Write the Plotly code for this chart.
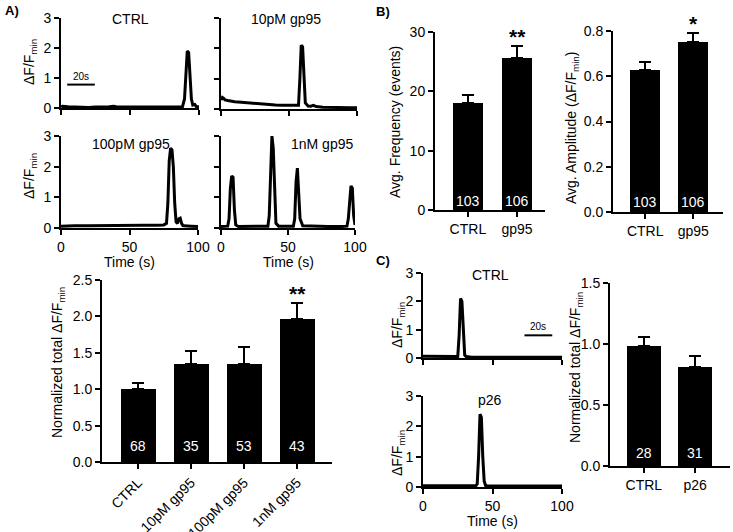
import plotly.graph_objects as go

W, H = 733, 532
FONT = "Liberation Sans, Arial, sans-serif"

# ---------------- data ----------------
# Panel A traces (time s, dF/Fmin)
a_ctrl_t = [0, 1, 5, 10, 15, 20, 25, 30, 35, 38, 40, 45, 50, 55, 60, 65, 70, 75, 80, 85, 88, 89.5, 90.5, 91.5, 92.5, 93.5, 94.5, 95.5, 97, 98, 100]
a_ctrl_y = [0.04, 0.06, 0.04, 0.03, 0.03, 0.02, 0.03, 0.03, 0.04, 0.06, 0.04, 0.03, 0.03, 0.03, 0.04, 0.03, 0.05, 0.03, 0.03, 0.03, 0.04, 0.3, 1.3, 1.9, 1.85, 1.0, 0.3, 0.1, 0.12, 0.05, 0.04]

a_10p_t = [0, 1, 2, 3, 5, 8, 10, 15, 20, 25, 30, 35, 40, 45, 50, 55, 57, 58, 59, 60, 61, 62, 64, 66, 68, 70, 75, 80, 85, 90, 95, 100]
a_10p_y = [0.3, 0.38, 0.35, 0.3, 0.28, 0.25, 0.24, 0.22, 0.2, 0.17, 0.15, 0.14, 0.13, 0.12, 0.12, 0.11, 0.12, 1.0, 2.1, 2.05, 1.0, 0.2, 0.1, 0.09, 0.12, 0.08, 0.06, 0.05, 0.05, 0.04, 0.04, 0.04]

a_100p_t = [0, 5, 10, 20, 30, 40, 50, 60, 70, 75, 77, 78, 79, 80, 81, 82, 83, 84, 85, 86, 87, 88, 89, 90, 95, 100]
a_100p_y = [0.06, 0.07, 0.07, 0.07, 0.08, 0.08, 0.08, 0.09, 0.09, 0.1, 0.15, 0.8, 2.2, 2.6, 2.55, 2.0, 0.8, 0.2, 0.15, 0.3, 0.32, 0.15, 0.08, 0.07, 0.06, 0.05]

a_1n_t = [0, 3, 5, 6, 7, 8, 9, 10, 11, 13, 20, 30, 35, 36, 37, 38, 39, 40, 41, 43, 50, 54, 55, 56, 57, 58, 59, 61, 70, 80, 90, 94, 95, 96, 97, 98, 99, 100]
a_1n_y = [0.05, 0.05, 0.06, 0.3, 1.3, 1.7, 1.65, 0.6, 0.1, 0.05, 0.05, 0.05, 0.06, 0.4, 2.0, 3.0, 2.6, 0.9, 0.15, 0.06, 0.05, 0.06, 0.3, 1.5, 1.95, 1.2, 0.3, 0.07, 0.05, 0.05, 0.05, 0.06, 0.3, 1.0, 1.37, 1.3, 0.4, 0.1]

# Panel A bars
a_cats = ["CTRL", "10pM gp95", "100pM gp95", "1nM gp95"]
a_vals = [1.0, 1.34, 1.35, 1.97]
a_err = [0.09, 0.18, 0.23, 0.22]
a_n = ["68", "35", "53", "43"]
a_sig = ["", "", "", "**"]

# Panel B bars
b_cats = ["CTRL", "gp95"]
b_freq = [18.0, 25.6]
b_freq_err = [1.4, 2.0]
b_amp = [0.628, 0.752]
b_amp_err = [0.037, 0.038]
b_n = ["103", "106"]
b_freq_sig = ["", "**"]
b_amp_sig = ["", "*"]

# Panel C traces
c_ctrl_t = [0, 5, 8, 10, 15, 20, 24, 25, 26, 27, 28, 29, 30, 31, 32, 35, 40, 50, 60, 70, 80, 90, 100]
c_ctrl_y = [0.06, 0.06, 0.06, 0.05, 0.04, 0.04, 0.04, 0.05, 0.8, 2.1, 2.0, 0.8, 0.1, 0.05, 0.04, 0.03, 0.03, 0.03, 0.03, 0.03, 0.03, 0.03, 0.03]
c_p26_t = [0, 10, 20, 30, 38, 39, 40, 41, 42, 43, 44, 45, 46, 50, 60, 70, 80, 90, 100]
c_p26_y = [0.04, 0.04, 0.04, 0.04, 0.04, 0.1, 1.0, 2.4, 2.3, 1.0, 0.2, 0.05, 0.04, 0.03, 0.03, 0.03, 0.03, 0.03, 0.03]

# Panel C bars
c_cats = ["CTRL", "p26"]
c_vals = [0.98, 0.81]
c_err = [0.08, 0.09]
c_n = ["28", "31"]

# scale bars: (panel axis, start time, length s, level)
scalebars = [("1", 4.5, 20, 0.78), ("8", 73, 20, 0.8)]

FS = 14

# ---------------- helpers ----------------
def dxp(a, b):
    return [a / W, b / W]

def dyp(top, bottom):
    return [1 - bottom / H, 1 - top / H]

def px_x(x):
    return x / W

def px_y(y):
    return 1 - y / H

def paper_text(text, xp, yp, size=FS, angle=0, color="black"):
    return dict(text=text, x=px_x(xp), y=px_y(yp), xref="paper", yref="paper",
                xanchor="center", yanchor="middle", showarrow=False, textangle=angle,
                font=dict(size=size, family=FONT, color=color))

axis_style = dict(showline=True, linewidth=2, linecolor="black", ticks="outside",
                  ticklen=5, tickwidth=2, tickcolor="black", showgrid=False,
                  zeroline=False, automargin=False,
                  tickfont=dict(size=FS, color="black", family=FONT))

fig = go.Figure()
layout = {}
annotations = []
shapes = []

# panel domains (px): (x0, x1, ytop, ybottom)
trace_panels = {
    "1": (61, 199, 18, 108, a_ctrl_t, a_ctrl_y, True, False, "CTRL", 130, 19),
    "2": (221, 357, 18, 109, a_10p_t, a_10p_y, False, False, "10pM gp95", 286, 19),
    "3": (61, 198, 136, 228, a_100p_t, a_100p_y, True, True, "100pM gp95", 131, 144),
    "4": (221, 355, 136, 228, a_1n_t, a_1n_y, False, True, "1nM gp95", 322, 144),
    "8": (423, 562, 273, 358, c_ctrl_t, c_ctrl_y, True, False, "CTRL", 490, 275),
    "9": (423, 562, 396, 487, c_p26_t, c_p26_y, True, True, "p26", 490, 400),
}

for k, (x0, x1, yt, yb, t, y, ylab, xlab, title, tx, ty) in trace_panels.items():
    xa = "xaxis" if k == "1" else "xaxis" + k
    ya = "yaxis" if k == "1" else "yaxis" + k
    xr = "x" if k == "1" else "x" + k
    yr = "y" if k == "1" else "y" + k
    fig.add_trace(go.Scatter(x=t, y=y, mode="lines", xaxis=xr, yaxis=yr,
                             line=dict(color="black", width=3), showlegend=False,
                             hoverinfo="skip"))
    layout[xa] = dict(axis_style, domain=dxp(x0, x1), range=[0, 100], anchor=yr,
                      tickvals=[0, 50, 100], showticklabels=xlab)
    layout[ya] = dict(axis_style, domain=dyp(yt, yb), range=[0, 3], anchor=xr,
                      tickvals=[0, 1, 2, 3], showticklabels=ylab)
    annotations.append(paper_text(title, tx, ty))
    if xlab:
        annotations.append(paper_text("Time (s)", (x0 + x1) / 2, yb + 34))

# y titles for trace panels
for (xp, yp) in [(30, 62), (30, 176), (398, 325), (398, 453)]:
    annotations.append(paper_text("ΔF/F<sub>min</sub>", xp, yp, angle=-90))

for (k, t0, L, lev) in scalebars:
    xr = "x" if k == "1" else "x" + k
    yr = "y" if k == "1" else "y" + k
    shapes.append(dict(type="line", xref=xr, yref=yr, x0=t0, x1=t0 + L, y0=lev, y1=lev,
                       line=dict(color="black", width=2)))
    annotations.append(dict(text="20s", xref=xr, yref=yr, x=t0 + L / 2, y=lev, yanchor="bottom",
                            xanchor="center", yshift=1, showarrow=False,
                            font=dict(size=10, family=FONT, color="black")))

# bar panels
bar_panels = [
    ("5", (102, 332, 280, 462), a_cats, a_vals, a_err, a_n, a_sig, [0, 2.5], 0.5, ".1f",
     [-0.68, 3.66], 0.66, -45, 16, "Normalized total ΔF/F<sub>min</sub>", 58, 363),
    ("6", (435, 545, 32, 210), b_cats, b_freq, b_freq_err, b_n, b_freq_sig, [0, 30], 10, "d",
     [-0.67, 1.57], 0.61, 0, 9, "Avg. Frequency (events)", 395, 122),
    ("7", (613, 723, 31, 212), b_cats, b_amp, b_amp_err, b_n, b_amp_sig, [0, 0.8], 0.2, ".1f",
     [-0.67, 1.62], 0.62, 0, 10, "Avg. Amplitude (ΔF/F<sub>min</sub>)", 572, 128),
    ("10", (610, 730, 283, 466), c_cats, c_vals, c_err, c_n, ["", ""], [0, 1.5], 0.5, ".1f",
     [-0.66, 1.68], 0.66, 0, 13, "Normalized total ΔF/F<sub>min</sub>", 576, 368),
]

for (k, (x0, x1, yt, yb), cats, vals, err, ns, sig, yrng, dt, fmt, xrng, bw, ang, nshift,
     ytitle, tx, ty) in bar_panels:
    xr, yr = "x" + k, "y" + k
    fig.add_trace(go.Bar(x=cats, y=vals, xaxis=xr, yaxis=yr, width=bw,
                         marker=dict(color="black", line=dict(width=0)),
                         error_y=dict(type="data", array=err, arrayminus=[0] * len(err),
                                      symmetric=False, color="black", thickness=2, width=6),
                         showlegend=False, hoverinfo="skip"))
    layout["xaxis" + k] = dict(axis_style, domain=dxp(x0, x1), type="category", range=xrng,
                               anchor=yr, tickangle=ang)
    layout["yaxis" + k] = dict(axis_style, domain=dyp(yt, yb), range=yrng, dtick=dt,
                               tickformat=fmt, anchor=xr)
    for c, n, v, e, s in zip(cats, ns, vals, err, sig):
        annotations.append(dict(text=n, x=c, y=0, xref=xr, yref=yr, yanchor="middle",
                                xanchor="center", yshift=nshift, showarrow=False,
                                font=dict(size=FS, family=FONT, color="white")))
        if s:
            annotations.append(dict(text="<b>" + s + "</b>", x=c, y=v + e, xref=xr, yref=yr,
                                    yanchor="bottom", xanchor="center", yshift=-4,
                                    showarrow=False,
                                    font=dict(size=21, family=FONT, color="black")))
    annotations.append(paper_text(ytitle, tx, ty, angle=-90))

# panel letters
for lab, xp, yp in [("A)", 12, 10), ("B)", 383, 12), ("C)", 383, 260)]:
    annotations.append(paper_text("<b>" + lab + "</b>", xp, yp, size=13))

fig.update_layout(width=W, height=H, margin=dict(l=0, r=0, t=0, b=0, pad=0),
                  paper_bgcolor="white", plot_bgcolor="white",
                  annotations=annotations, shapes=shapes, bargap=0,
                  font=dict(family=FONT, color="black"), **layout)

fig.write_html("out.html", config={"displayModeBar": False},
               post_script="document.body.style.margin='0';document.body.style.overflow='hidden';")
